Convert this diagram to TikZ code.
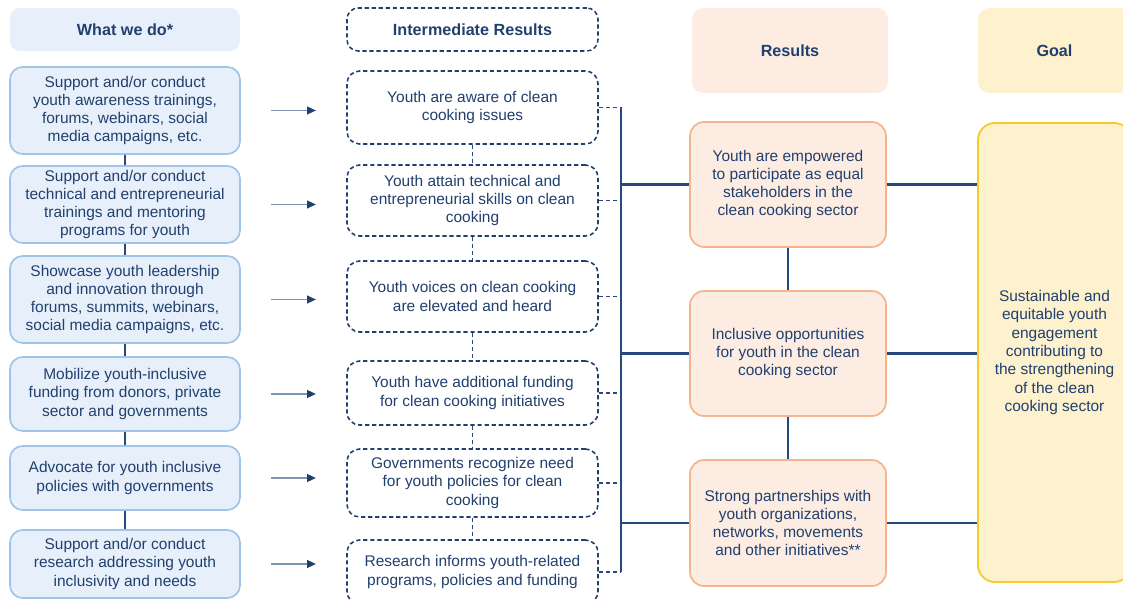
\documentclass[tikz,border=0pt]{standalone}
\usepackage{fontspec}
\setmainfont{Liberation Sans}
\usetikzlibrary{arrows.meta}

\definecolor{navy}{RGB}{33,64,110}
\definecolor{linkblue}{RGB}{38,72,125}
\definecolor{dofill}{RGB}{231,240,250}
\definecolor{doline}{RGB}{160,196,232}
\definecolor{feedgray}{RGB}{125,150,182}
\definecolor{resfill}{RGB}{252,236,226}
\definecolor{resline}{RGB}{245,180,140}
\definecolor{goalfill}{RGB}{253,241,206}
\definecolor{goalline}{RGB}{249,203,40}

\begin{document}
\begin{tikzpicture}[
    every node/.style={font=\fontsize{11}{13}\selectfont, text=navy, align=center, inner sep=2pt},
    headfont/.style={font=\fontsize{11.5}{13}\selectfont\bfseries},
    headblue/.style={headfont, fill=dofill, rounded corners=7pt, minimum width=5.75cm, minimum height=1.075cm},
    dobox/.style={draw=doline, fill=dofill, line width=1.2pt, rounded corners=9pt, minimum width=5.75cm},
    headdash/.style={headfont, draw=navy, dash pattern=on 3pt off 2pt, line width=1.1pt, rounded corners=8pt, minimum width=6.275cm, minimum height=1.075cm},
    irbox/.style={draw=navy, dash pattern=on 3pt off 2pt, fill=white, line width=1.1pt, rounded corners=9pt, minimum width=6.275cm},
    headres/.style={headfont, fill=resfill, rounded corners=8pt, minimum width=4.9cm, minimum height=2.125cm},
    resbox/.style={draw=resline, fill=resfill, line width=1.2pt, rounded corners=10pt, minimum width=4.9cm, minimum height=3.125cm},
    headgoal/.style={headfont, fill=goalfill, rounded corners=8pt, minimum width=3.825cm, minimum height=2.125cm},
    goalbox/.style={draw=goalline, fill=goalfill, line width=1.3pt, rounded corners=12pt, minimum width=3.825cm, minimum height=11.475cm},
    link/.style={draw=linkblue, line width=1.6pt},
    dashlink/.style={link, line width=1.4pt, dash pattern=on 3pt off 2pt},
    feed/.style={draw=feedgray, line width=0.8pt, -{Triangle[length=2.2mm, width=2mm, fill=navy, color=navy]}},
]
    \useasboundingbox (0,0) rectangle (28.075,14.975);
    \clip (0,0) rectangle (28.075,14.975);

    % intestazioni
    \node[headblue] (hdo) at (3.125,14.2375) {What we do*};
    \node[headdash] (hir) at (11.8125,14.2375) {Intermediate Results};
    \node[headres] (hres) at (19.75,13.7125) {Results};
    \node[headgoal] (hgoal) at (26.3625,13.7125) {Goal};

    % colonna attivita
    \node[dobox, minimum height=2.175cm] (do1) at (3.125,12.2125)
        {Support and/or conduct\\youth awareness trainings,\\forums, webinars, social\\media campaigns, etc.};
    \node[dobox, minimum height=1.925cm] (do2) at (3.125,9.8625)
        {Support and/or conduct\\technical and entrepreneurial\\trainings and mentoring\\programs for youth};
    \node[dobox, minimum height=2.175cm] (do3) at (3.125,7.4875)
        {Showcase youth leadership\\and innovation through\\forums, summits, webinars,\\social media campaigns, etc.};
    \node[dobox, minimum height=1.85cm] (do4) at (3.125,5.125)
        {Mobilize youth-inclusive\\funding from donors, private\\sector and governments};
    \node[dobox, minimum height=1.6cm] (do5) at (3.125,3.025)
        {Advocate for youth inclusive\\policies with governments};
    \node[dobox, minimum height=1.7cm] (do6) at (3.125,0.875)
        {Support and/or conduct\\research addressing youth\\inclusivity and needs};

    % risultati intermedi
    \node[irbox, minimum height=1.825cm] (ir1) at (11.8125,12.2875)
        {Youth are aware of clean\\cooking issues};
    \node[irbox, minimum height=1.775cm] (ir2) at (11.8125,9.9625)
        {Youth attain technical and\\entrepreneurial skills on clean\\cooking};
    \node[irbox, minimum height=1.775cm] (ir3) at (11.8125,7.5625)
        {Youth voices on clean cooking\\are elevated and heard};
    \node[irbox, minimum height=1.6cm] (ir4) at (11.8125,5.15)
        {Youth have additional funding\\for clean cooking initiatives};
    \node[irbox, minimum height=1.7cm] (ir5) at (11.8125,2.9)
        {Governments recognize need\\for youth policies for clean\\cooking};
    \node[irbox, minimum height=1.6cm] (ir6) at (11.8125,0.675)
        {Research informs youth-related\\programs, policies and funding};

    % risultati
    \node[resbox] (res1) at (19.7,10.3625)
        {Youth are empowered\\to participate as equal\\stakeholders in the\\clean cooking sector};
    \node[resbox] (res2) at (19.7,6.1375)
        {Inclusive opportunities\\for youth in the clean\\cooking sector};
    \node[resbox, minimum height=3.15cm] (res3) at (19.7,1.9)
        {Strong partnerships with\\youth organizations,\\networks, movements\\and other initiatives**};

    % obiettivo
    \node[goalbox] (goal) at (26.3625,6.1625)
        {Sustainable and\\equitable youth\\engagement\\contributing to\\the strengthening\\of the clean\\cooking sector};

    % catene verticali
    \foreach \a/\b in {do1/do2,do2/do3,do3/do4,do4/do5,do5/do6}
        \draw[link] (\a.south) -- (\b.north);
    \foreach \a/\b in {ir1/ir2,ir2/ir3,ir3/ir4,ir4/ir5,ir5/ir6}
        \draw[dashlink] (\a.south) -- (\b.north);
    \draw[link] (res1.south) -- (res2.north);
    \draw[link] (res2.south) -- (res3.north);

    % frecce attivita -> risultati intermedi
    \foreach \i in {1,...,6}
        \draw[feed] (do\i.east) ++(0.75,0) -- ++(1.125,0);

    % raccordo tratteggiato e barra
    \foreach \i in {1,...,6}
        \draw[dashlink] (ir\i.east) -- ++(0.55,0) coordinate (bus\i);
    \draw[link] (bus1) -- (bus6);
    \foreach \j in {1,2,3}
        \draw[link] (bus1 |- res\j.west) -- (res\j.west);

    % risultati -> obiettivo
    \foreach \j in {1,2,3}
        \draw[link] (res\j.east) -- (res\j.east -| goal.west);
\end{tikzpicture}
\end{document}
